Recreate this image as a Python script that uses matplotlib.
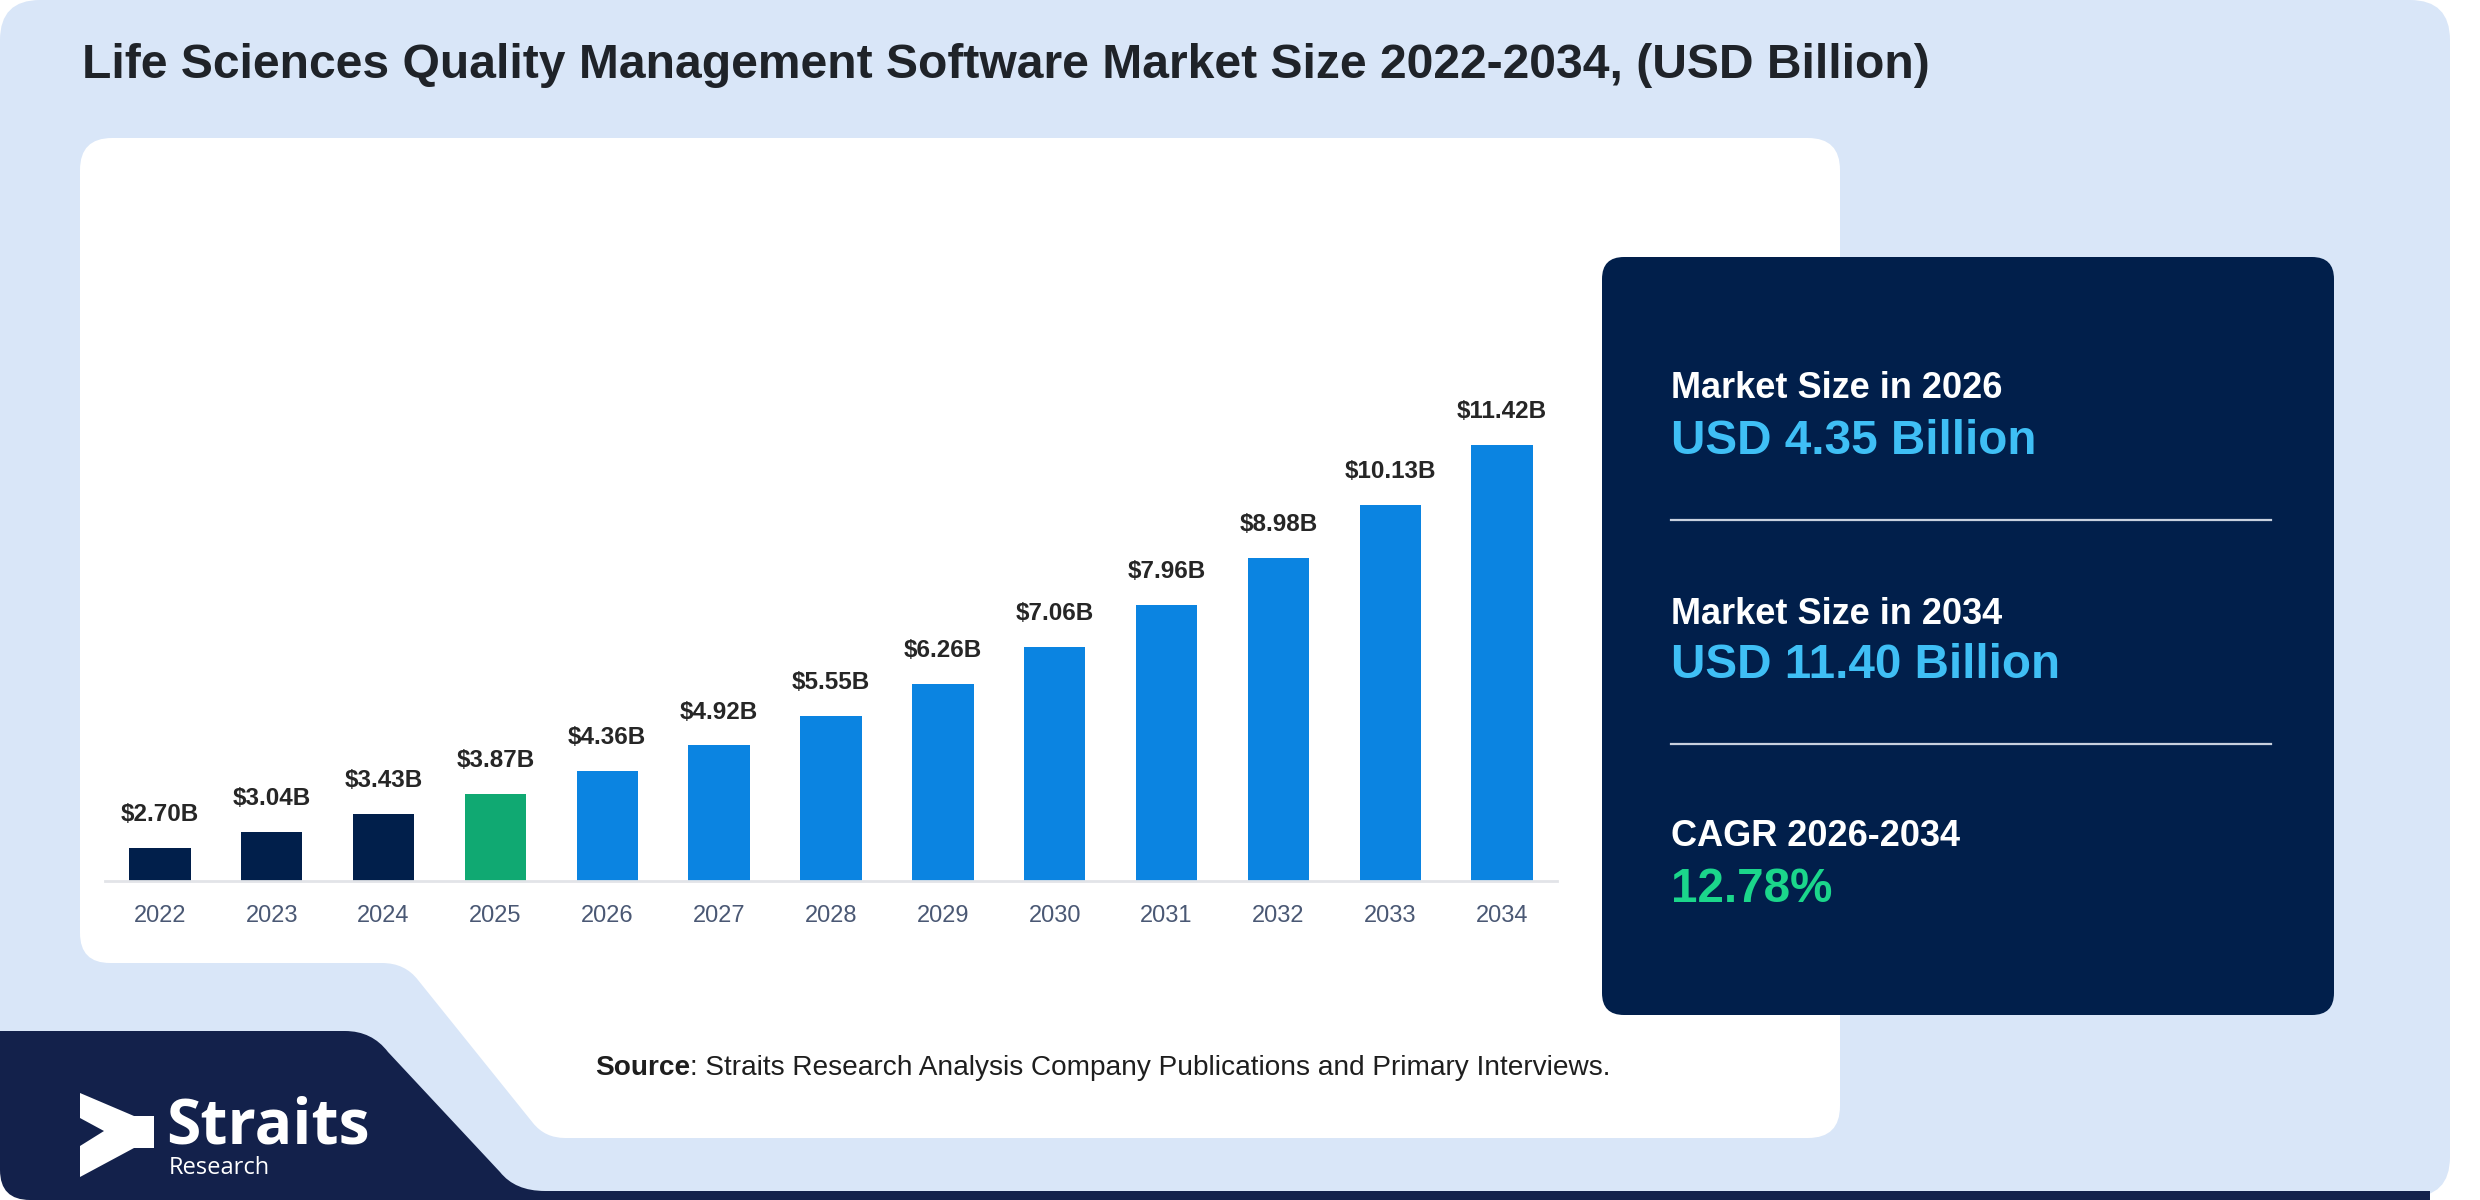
import matplotlib
matplotlib.use('Agg')
import matplotlib.pyplot as plt
from matplotlib.path import Path
from matplotlib.patches import PathPatch, FancyBboxPatch, Polygon

plt.rcParams['font.family'] = ['Liberation Sans', 'DejaVu Sans']

# data
years = [2022, 2023, 2024, 2025, 2026, 2027, 2028, 2029, 2030, 2031, 2032, 2033, 2034]
values = [2.70, 3.04, 3.43, 3.87, 4.36, 4.92, 5.55, 6.26, 7.06, 7.96, 8.98, 10.13, 11.42]
base_year = 2025

title = 'Life Sciences Quality Management Software Market Size 2022-2034, (USD Billion)'
kpi_labels = ['Market Size in 2026', 'Market Size in 2034', 'CAGR 2026-2034']
kpi_values = ['USD 4.35 Billion', 'USD 11.40 Billion', '12.78%']
source_text = ': Straits Research Analysis Company Publications and Primary Interviews.'

NAVY = '#011f4b'
GREEN = '#10a972'
BLUE = '#0b84e1'
BG = '#d9e6f8'
LOGO = '#13214b'

W, H = 2480, 1200
fig = plt.figure(figsize=(W / 100, H / 100), dpi=100, facecolor='white')

# background layer in pixel coordinates (y down)
bg = fig.add_axes([0, 0, 1, 1], zorder=0)
bg.set_xlim(0, W)
bg.set_ylim(H, 0)
bg.axis('off')

bg.add_patch(FancyBboxPatch((0, 0), 2450, 1197, boxstyle='round,pad=0,rounding_size=40',
                            fc=BG, ec='none'))

# white card with the cut at bottom-left
M, L, C = Path.MOVETO, Path.LINETO, Path.CURVE3
card = [((80, 170), M), ((80, 138), C), ((112, 138), C),
        ((1808, 138), L), ((1840, 138), C), ((1840, 170), C),
        ((1840, 1106), L), ((1840, 1138), C), ((1808, 1138), C),
        ((565, 1138), L), ((545, 1138), C), ((533, 1123), C),
        ((418, 980), L), ((405, 963), C), ((382, 963), C),
        ((110, 963), L), ((80, 963), C), ((80, 933), C),
        ((80, 170), Path.CLOSEPOLY)]
bg.add_patch(PathPatch(Path([v for v, _ in card], [c for _, c in card]), fc='white', ec='none'))

# navy logo band
band = [((0, 1031), M), ((345, 1031), L), ((372, 1031), C), ((388, 1052), C),
        ((500, 1172), L), ((515, 1191), C), ((545, 1191), C),
        ((2430, 1191), L), ((2430, 1200), L), ((30, 1200), L),
        ((0, 1200), C), ((0, 1170), C), ((0, 1031), Path.CLOSEPOLY)]
bg.add_patch(PathPatch(Path([v for v, _ in band], [c for _, c in band]), fc=LOGO, ec='none'))

# logo arrow + wordmark
arrow = [(80, 1093), (134, 1116), (154, 1116), (154, 1148), (134, 1148),
         (80, 1177), (80, 1146), (104, 1131), (80, 1118)]
bg.add_patch(Polygon(arrow, closed=True, fc='white', ec='none'))
bg.text(166, 1143, 'Straits', color='white', fontsize=45, fontweight='bold',
        family=['Open Sans', 'DejaVu Sans'], va='baseline', ha='left')
bg.text(169, 1174, 'Research', color='white', fontsize=17,
        family=['Open Sans', 'DejaVu Sans'], va='baseline', ha='left')

# title
bg.text(82, 66, title, fontsize=34.6, fontweight='bold', color='#1f2329', va='center', ha='left')

# KPI panel
bg.add_patch(FancyBboxPatch((1602, 257), 732, 758, boxstyle='round,pad=0,rounding_size=22',
                            fc=NAVY, ec='none'))
kpi_colors = ['#3fbff5', '#3fbff5', '#1bd68b']
label_y = [389, 614, 837]
for i, (lab, val) in enumerate(zip(kpi_labels, kpi_values)):
    bg.text(1671, label_y[i], lab, color='white', fontsize=26, fontweight='bold', va='center')
    bg.text(1671, label_y[i] + 52, val, color=kpi_colors[i], fontsize=34.3, fontweight='bold',
            va='center')
for y in (520, 744):
    bg.plot([1671, 2271], [y, y], color='#c8d0de', lw=1.6)

# source line
src_bold = bg.text(595, 1068, 'Source', fontsize=20.2, fontweight='bold', color='#1e1e1e', va='center')
fig.canvas.draw()
ext = src_bold.get_window_extent()
bg.text(ext.x1, 1068, source_text, fontsize=20.2, color='#1e1e1e', va='center')

# bar chart
ax = fig.add_axes([105 / W, (H - 881) / H, (1557 - 105) / W, (881 - 300) / H], zorder=1)
ax.patch.set_alpha(0)
x = list(range(len(years)))
colors = [NAVY if yr < base_year else (GREEN if yr == base_year else BLUE) for yr in years]
bars = ax.bar(x, values, width=0.55, color=colors, bottom=0)
ax.set_xlim(-0.49, len(years) - 0.51)
ax.set_ylim(1.986, 14.56)
for b, v in zip(bars, values):
    ax.annotate(f'${v:.2f}B', (b.get_x() + b.get_width() / 2, v), xytext=(0, 24),
                textcoords='offset points', ha='center', va='center', fontsize=17.5,
                fontweight='bold', color='#262626')
ax.set_xticks(x)
ax.set_xticklabels([str(y) for y in years], fontsize=17, color='#4a5874')
ax.tick_params(axis='x', length=0, pad=17)
ax.set_yticks([])
for s in ('top', 'right', 'left'):
    ax.spines[s].set_visible(False)
ax.spines['bottom'].set_color('#e2e4e8')
ax.spines['bottom'].set_linewidth(2)

fig.savefig('out.png', dpi=100, facecolor=fig.get_facecolor())
